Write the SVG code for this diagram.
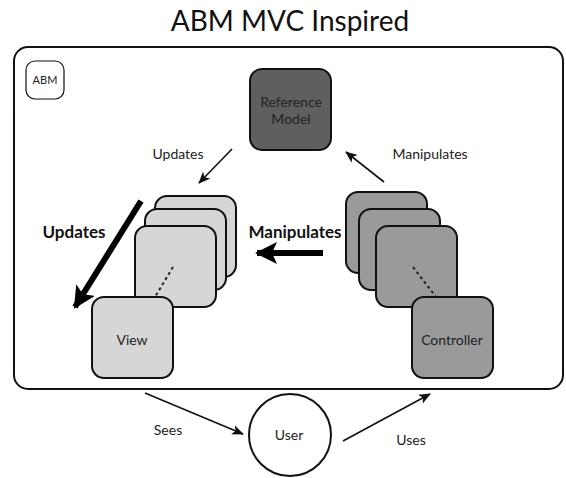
<svg xmlns="http://www.w3.org/2000/svg" width="566" height="478" viewBox="0 0 566 478">
<style>
text{font-family:Lato,"Open Sans","Liberation Sans",sans-serif;fill:#222;}
.lbl{font-size:14px;text-anchor:middle;}
.bold{font-size:17px;font-weight:bold;text-anchor:middle;fill:#111;}
.box{stroke:#111;stroke-width:2;}
.view{fill:#d6d6d6;}
.ctrl{fill:#9a9a9a;}
.model{fill:#5f5f5f;}
.thin{stroke:#111;stroke-width:1.6;fill:none;}
.thick{stroke:#000;stroke-width:6;fill:none;}
.dots{stroke:#222;stroke-width:2;stroke-dasharray:3,3;fill:none;}
</style>
<defs>
<marker id="ah" markerUnits="userSpaceOnUse" markerWidth="12" markerHeight="10" refX="11" refY="5" orient="auto">
<path d="M0,0 L12,5 L0,10 L3,5 z" fill="#111"/>
</marker>
<marker id="ahb" markerUnits="userSpaceOnUse" markerWidth="22" markerHeight="22" refX="20" refY="11" orient="auto">
<path d="M0,0 L22,11 L0,22 L5,11 z" fill="#000"/>
</marker>
</defs>
<rect width="566" height="478" fill="#fff"/>
<text x="290" y="31" font-size="28" text-anchor="middle" style="fill:#111">ABM MVC Inspired</text>
<g id="abm-frame">
<rect x="14" y="47" width="549" height="342" rx="14" fill="#fff" stroke="#111" stroke-width="2"/>
</g>
<g id="abm-tag">
<rect x="26" y="61" width="38" height="38" rx="9" fill="#fff" stroke="#111" stroke-width="1.2"/>
<text x="45" y="84" font-size="11" text-anchor="middle">ABM</text>
</g>
<g id="reference-model">
<rect class="box model" x="250" y="69" width="81" height="81" rx="12"/>
<text class="lbl" x="291" y="107">Reference</text>
<text class="lbl" x="291" y="124">Model</text>
</g>
<g id="view-stack">
<rect class="box view" x="155" y="196" width="81" height="81" rx="12"/>
<rect class="box view" x="145" y="209" width="81" height="81" rx="12"/>
<rect class="box view" x="135" y="226" width="81" height="81" rx="12"/>
<path class="dots" d="M173,267 L155,297"/>
</g>
<g id="view">
<rect class="box view" x="92" y="297" width="81" height="81" rx="12"/>
<text class="lbl" x="132" y="345">View</text>
</g>
<g id="controller-stack">
<rect class="box ctrl" x="346" y="192" width="81" height="81" rx="12"/>
<rect class="box ctrl" x="359" y="209" width="81" height="81" rx="12"/>
<rect class="box ctrl" x="376" y="226" width="81" height="81" rx="12"/>
<path class="dots" d="M413,267 L436,297"/>
</g>
<g id="controller">
<rect class="box ctrl" x="412" y="297" width="81" height="81" rx="12"/>
<text class="lbl" x="452" y="345">Controller</text>
</g>
<g id="user">
<circle cx="290" cy="435" r="41" fill="#fff" stroke="#111" stroke-width="2"/>
<text class="lbl" x="289" y="440">User</text>
</g>
<g id="connectors">
<path class="thin" d="M232,149 L199,183" marker-end="url(#ah)"/>
<text class="lbl" x="178" y="159">Updates</text>
<path class="thin" d="M384,182 L346,152" marker-end="url(#ah)"/>
<text class="lbl" x="430" y="159">Manipulates</text>
<path class="thick" d="M141,201 L75,307" marker-end="url(#ahb)"/>
<text class="bold" x="74" y="238">Updates</text>
<path class="thick" d="M323,253 L257,253" marker-end="url(#ahb)"/>
<text class="bold" x="295" y="238">Manipulates</text>
<path class="thin" d="M145,393 L243,434" marker-end="url(#ah)"/>
<text class="lbl" x="168" y="435">Sees</text>
<path class="thin" d="M343,441 L430,394" marker-end="url(#ah)"/>
<text class="lbl" x="411" y="445">Uses</text>
</g>
</svg>
